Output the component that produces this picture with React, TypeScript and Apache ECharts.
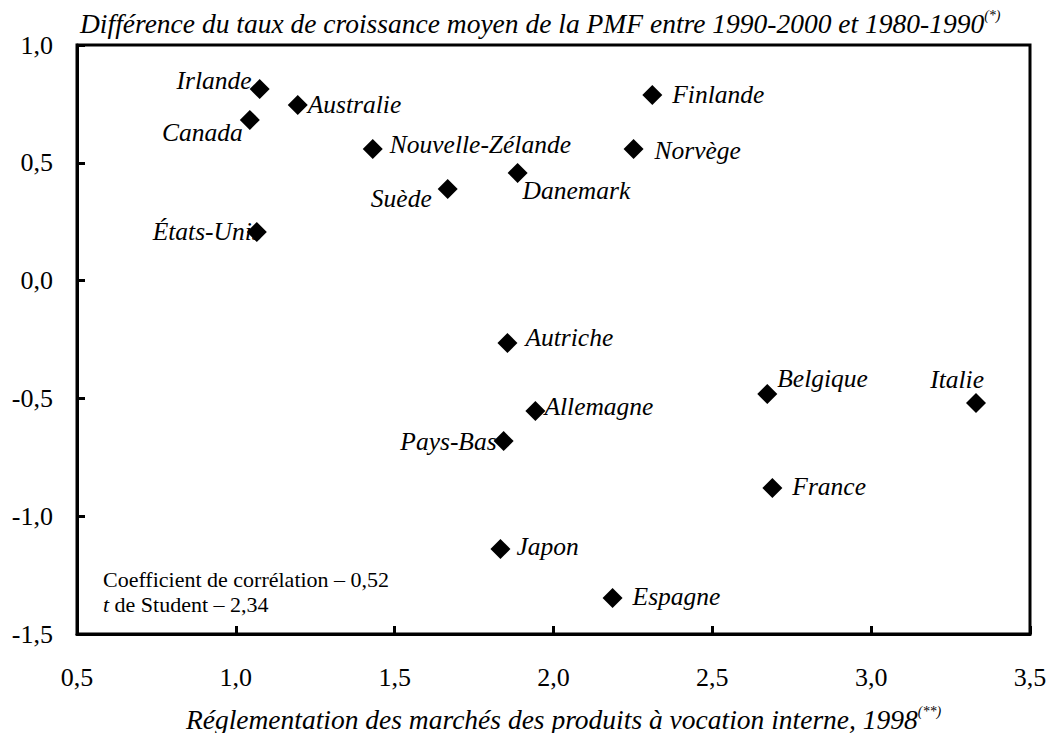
import React, { useEffect, useRef } from "react";
import * as echarts from "echarts";

const countries = [
  "Irlande", "Australie", "Canada", "Nouvelle-Zélande", "Suède", "États-Unis",
  "Danemark", "Finlande", "Norvège", "Autriche", "Allemagne", "Pays-Bas",
  "Japon", "Espagne", "Belgique", "Italie", "France",
];
const regulation = [
  1.075, 1.195, 1.044, 1.431, 1.667, 1.066,
  1.887, 2.311, 2.252, 1.855, 1.943, 1.843,
  1.833, 2.186, 2.673, 3.33, 2.689,
];
const pmfDiff = [
  0.813, 0.745, 0.682, 0.559, 0.389, 0.206,
  0.457, 0.788, 0.559, -0.265, -0.553, -0.681,
  -1.139, -1.347, -0.481, -0.52, -0.88,
];
const xTicks = ["0,5", "1,0", "1,5", "2,0", "2,5", "3,0", "3,5"];
const yTicks = ["-1,5", "-1,0", "-0,5", "0,0", "0,5", "1,0"];

// label placement: [align, dx, dy]
const labelPlacement: Record<string, [string, number, number]> = {
  "Irlande": ["right", -8, -9],
  "Australie": ["left", 10, -1],
  "Canada": ["right", -7, 13],
  "Nouvelle-Zélande": ["left", 17, -4],
  "Suède": ["right", -16, 10],
  "États-Unis": ["right", 5, -1],
  "Danemark": ["left", 5, 18],
  "Finlande": ["left", 20, 0],
  "Norvège": ["left", 21, 2],
  "Autriche": ["left", 18, -6],
  "Allemagne": ["left", 9, -4],
  "Pays-Bas": ["right", -7, 0],
  "Japon": ["left", 16, -2],
  "Espagne": ["left", 20, -1],
  "Belgique": ["left", 10, -15],
  "Italie": ["right", 8, -24],
  "France": ["left", 20, -1],
};

const SERIF = "Liberation Serif";

export default function App() {
  const ref = useRef<HTMLDivElement>(null);
  useEffect(() => {
    if (!ref.current) return;
    const chart = echarts.init(ref.current, undefined, { renderer: "svg" });
    const data = countries.map((name, i) => {
      const [align, dx, dy] = labelPlacement[name];
      return {
        name,
        value: [regulation[i], pmfDiff[i]],
        label: {
          show: true,
          formatter: name,
          position: ["50%", "50%"],
          align,
          verticalAlign: "middle",
          offset: [dx, dy],
        },
      };
    });
    chart.setOption({
      animation: false,
      backgroundColor: "#fff",
      textStyle: { fontFamily: SERIF },
      grid: {
        left: 77, right: 27, top: 45, bottom: 99,
        containLabel: false,
        outerBoundsMode: "none",
        show: true, borderColor: "#000", borderWidth: 3, backgroundColor: "transparent",
      },
      xAxis: {
        type: "value", min: 0.5, max: 3.5, interval: 0.5,
        axisLine: { show: true, onZero: false, lineStyle: { color: "#000", width: 3 } },
        axisTick: { show: true, inside: true, length: 8, lineStyle: { color: "#000", width: 3 } },
        splitLine: { show: false },
        axisLabel: {
          margin: 30, color: "#000", fontFamily: SERIF, fontSize: 26,
          formatter: (v: number) => xTicks[Math.round((v - 0.5) / 0.5)] ?? "",
        },
        name: "{n|Réglementation des marchés des produits à vocation interne, 1998}{s|(**)}",
        nameLocation: "middle",
        nameGap: 70,
        nameTextStyle: {
          padding: [0, 0, 0, 20],
          rich: {
            n: { fontFamily: SERIF, fontStyle: "italic", fontSize: 27.5, color: "#000", lineHeight: 30 },
            s: { fontFamily: SERIF, fontStyle: "italic", fontSize: 14, color: "#000", verticalAlign: "top", lineHeight: 30, padding: [0, 0, 12, 0] },
          },
        },
      },
      yAxis: {
        type: "value", min: -1.5, max: 1.0, interval: 0.5,
        axisLine: { show: true, onZero: false, lineStyle: { color: "#000", width: 3 } },
        axisTick: { show: true, inside: true, length: 8, lineStyle: { color: "#000", width: 3 } },
        splitLine: { show: false },
        axisLabel: {
          margin: 24, color: "#000", fontFamily: SERIF, fontSize: 26,
          formatter: (v: number) => yTicks[Math.round((v + 1.5) / 0.5)] ?? "",
        },
      },
      graphic: [
        {
          type: "text",
          x: 80, y: 23,
          style: {
            text: "{t|Différence du taux de croissance moyen de la PMF entre 1990-2000 et 1980-1990}{s|(*)}",
            verticalAlign: "middle",
            rich: {
              t: { fontFamily: SERIF, fontStyle: "italic", fontSize: 27.5, fill: "#000", lineHeight: 30 },
              s: { fontFamily: SERIF, fontStyle: "italic", fontSize: 14, fill: "#000", verticalAlign: "top", lineHeight: 30, padding: [0, 0, 12, 0] },
            },
          },
        },
        {
          type: "text",
          x: 103, y: 579,
          style: {
            text: "Coefficient de corrélation – 0,52",
            fontFamily: SERIF, fontSize: 22, fill: "#000", verticalAlign: "middle",
          },
        },
        {
          type: "text",
          x: 103, y: 604,
          style: {
            text: "{i|t}{r| de Student – 2,34}",
            verticalAlign: "middle",
            rich: {
              i: { fontFamily: SERIF, fontStyle: "italic", fontSize: 22, fill: "#000" },
              r: { fontFamily: SERIF, fontSize: 22, fill: "#000" },
            },
          },
        },
      ],
      series: [
        {
          type: "scatter",
          symbol: "diamond",
          symbolSize: 20,
          itemStyle: { color: "#000", opacity: 1 },
          label: {
            fontFamily: SERIF, fontStyle: "italic", fontSize: 25.5, color: "#000",
          },
          data,
        },
      ],
    });
    return () => chart.dispose();
  }, []);
  return (
    <div
      ref={ref}
      style={{ position: "fixed", left: 0, top: 0, width: 1057, height: 733, background: "#fff" }}
    />
  );
}
